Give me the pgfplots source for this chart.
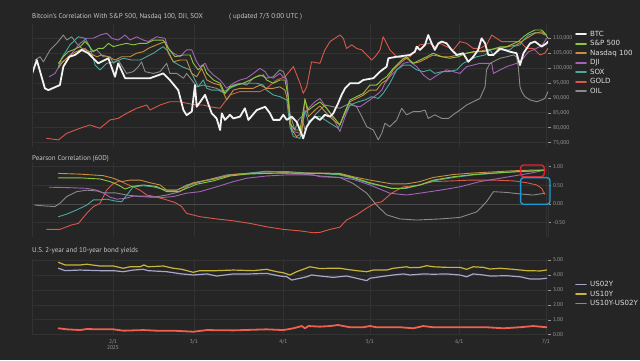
\documentclass[border=0pt]{standalone}
\usepackage{fontspec}
\setmainfont{PT Sans}
\newfontfamily\legfont{DejaVu Sans}
\usepackage{pgfplots}
\pgfplotsset{compat=1.18}
\definecolor{bg}{HTML}{252525}
\definecolor{gridc}{HTML}{323232}
\definecolor{zeroc}{HTML}{4A4A4A}
\definecolor{txt}{HTML}{C8C8C8}
\definecolor{tickc}{HTML}{9A9A9A}
\definecolor{legtxt}{HTML}{DDDDDD}
\definecolor{cbtc}{HTML}{F2F2F2}
\definecolor{cspx}{HTML}{8DC63F}
\definecolor{cndx}{HTML}{C98F3E}
\definecolor{cdji}{HTML}{A463B8}
\definecolor{csox}{HTML}{4BA89E}
\definecolor{cgold}{HTML}{D95848}
\definecolor{coil}{HTML}{8A8A8A}
\definecolor{ctwo}{HTML}{A8A6CC}
\definecolor{cten}{HTML}{C8B53A}
\definecolor{cspr}{HTML}{F0604E}
\definecolor{boxr}{HTML}{E8202A}
\definecolor{boxb}{HTML}{1C9AD6}
\pgfplotsset{
  panel/.style={
    scale only axis, width=516pt, xmin=2.94, xmax=181.7,
    axis line style={draw=none},
    major x tick style={draw=none},
    xtick={31,59,90,120,151,181},
    xmajorgrids, ymajorgrids,
    grid style={gridc, line width=0.6pt},
    ytick pos=right, yticklabel pos=right,
    tick align=outside, major tick length=2.5pt,
    major y tick style={tickc, line width=0.5pt},
    ticklabel style={font=\fontsize{5.5}{6}\selectfont, text=tickc},
    yticklabel style={xshift=-1pt},
    every axis plot/.append style={line join=round, line cap=round},
    legend style={draw=none, fill=none, font=\legfont\fontsize{7.1}{8}\selectfont, text=legtxt,
      anchor=north west, inner sep=0pt, row sep=0.6pt,
      nodes={inner sep=0.6pt, text height=6pt, text depth=1.7pt},
      /tikz/every odd column/.append style={column sep=2.6pt}},
    legend cell align=left,
    legend image code/.code={\draw[##1, line width=1.7pt] (0pt,0pt) -- (10pt,0pt);},
  },
  thin/.style={line width=0.9pt},
}
\begin{document}
\begin{tikzpicture}
\fill[bg] (0pt,0pt) rectangle (640pt,360pt);
\node[anchor=west, text=txt, font=\fontsize{7}{8}\selectfont, inner sep=0pt] at (32pt,343.5pt) {Bitcoin's Correlation With S\&P 500, Nasdaq 100, DJI, SOX};
\node[anchor=west, text=txt, font=\fontsize{7}{8}\selectfont, inner sep=0pt] at (229pt,343.5pt) {( updated 7/3 0:00 UTC )};
\node[anchor=west, text=txt, font=\fontsize{7}{8}\selectfont, inner sep=0pt] at (32pt,201pt) {Pearson Correlation (60D)};
\node[anchor=west, text=txt, font=\fontsize{7}{8}\selectfont, inner sep=0pt] at (32pt,109.5pt) {U.S. 2-year and 10-year bond yields};

% ---------------- top panel ----------------
\begin{axis}[panel, at={(32pt,213pt)}, anchor=south west, height=123pt,
  ymin=73.5, ymax=114.8,
  ytick={75,80,85,90,95,100,105,110},
  yticklabels={{75,000},{80,000},{85,000},{90,000},{95,000},{100,000},{105,000},{110,000}},
  xticklabels={},
  legend style={at={(1.0523,0.955)}}]
\addlegendimage{cbtc}\addlegendentry{BTC}
\addlegendimage{cspx}\addlegendentry{S\&P 500}
\addlegendimage{cndx}\addlegendentry{Nasdaq 100}
\addlegendimage{cdji}\addlegendentry{DJI}
\addlegendimage{csox}\addlegendentry{SOX}
\addlegendimage{cgold}\addlegendentry{GOLD}
\addlegendimage{coil}\addlegendentry{OIL}
% GOLD
\addplot[cgold, thin, forget plot] coordinates {(8.0,76.4)(12.1,75.9)(15.0,78.1)(19.6,79.8)(23.0,80.9)(26.5,79.8)(30.0,82.6)(32.8,83.1)(35.7,84.8)(39.2,86.5)(42.7,87.6)(43.8,85.9)(47.3,87.6)(50.7,88.7)(54.2,88.7)(56.5,88.2)(60.0,87.6)(62.3,87.6)(64.6,87.0)(68.1,86.5)(71.5,91.0)(75.0,92.1)(78.5,92.1)(81.9,92.1)(84.2,93.2)(87.7,96.0)(90.6,97.1)(93.5,100.5)(95.8,94.9)(96.9,91.5)(98.1,93.7)(99.8,102.1)(102.7,101.6)(104.4,106.1)(106.2,108.9)(107.9,110.0)(109.6,111.1)(110.8,110.0)(111.9,106.6)(113.7,107.8)(115.4,106.6)(117.2,106.1)(118.9,104.4)(120.6,102.7)(121.8,103.8)(123.5,106.1)(124.6,110.5)(125.8,108.3)(126.9,106.1)(129.3,103.8)(131.6,103.3)(133.9,103.8)(137.3,107.8)(140.8,108.3)(142.5,107.2)(144.3,108.3)(146.6,107.2)(148.9,106.1)(151.2,108.9)(153.5,108.3)(155.8,106.6)(158.1,106.6)(160.4,107.8)(162.2,111.1)(163.9,110.0)(165.6,108.9)(168.5,108.9)(172.0,108.9)(174.3,106.6)(176.6,106.6)(178.9,104.4)(180.6,105.0)(181.7,106.6)};
% OIL
\addplot[coil, thin, forget plot] coordinates {(4.0,102.7)(5.7,103.8)(6.9,102.1)(9.2,106.1)(11.5,108.3)(13.8,111.1)(15.0,109.4)(16.7,110.5)(18.4,108.3)(20.2,106.6)(23.0,105.5)(25.4,106.1)(27.6,103.8)(30.0,103.8)(31.1,101.6)(32.8,102.7)(34.6,99.9)(35.7,98.2)(38.0,98.8)(39.8,100.5)(40.9,102.1)(42.1,98.8)(45.0,98.2)(47.3,98.8)(49.6,101.6)(50.7,98.2)(53.1,98.2)(55.4,96.6)(56.5,98.2)(58.3,96.0)(60.0,93.7)(62.3,94.3)(64.6,93.7)(66.9,93.2)(69.2,92.1)(70.4,92.6)(72.7,94.3)(75.0,94.9)(77.3,94.3)(79.6,96.6)(81.9,97.7)(84.2,96.6)(86.5,97.1)(88.8,99.4)(90.0,98.8)(91.2,96.0)(92.3,84.8)(94.0,79.2)(95.2,82.6)(96.4,83.7)(97.5,79.2)(99.2,81.5)(101.0,84.3)(102.7,85.9)(104.4,87.6)(107.3,87.0)(109.6,86.5)(113.1,88.2)(115.4,87.0)(117.2,83.7)(118.9,80.3)(121.2,79.2)(122.9,75.9)(124.1,78.1)(125.2,81.5)(126.9,80.3)(129.3,82.6)(131.0,86.5)(132.7,84.3)(135.0,85.4)(137.3,85.4)(139.1,85.9)(140.2,83.1)(142.5,84.3)(144.9,83.1)(147.2,83.1)(149.5,84.8)(151.2,85.9)(153.5,87.6)(155.8,88.7)(158.1,89.8)(159.9,93.7)(160.4,99.4)(161.6,101.6)(163.9,102.7)(165.1,103.3)(167.4,103.8)(169.7,104.4)(170.8,103.8)(171.4,100.5)(172.0,93.7)(172.6,92.1)(173.7,90.4)(175.5,89.3)(177.8,88.7)(179.5,89.3)(180.6,89.8)(181.7,92.1)};
% DJI
\addplot[cdji, thin, forget plot] coordinates {(8.9,97.1)(10.9,98.2)(13.2,102.1)(14.4,102.7)(17.2,105.5)(19.6,108.3)(21.9,110.0)(24.2,110.0)(26.5,111.1)(28.8,111.7)(30.6,110.0)(32.8,109.4)(35.2,111.1)(36.9,109.4)(39.2,110.5)(41.5,109.4)(43.2,108.9)(46.1,110.5)(49.0,110.0)(50.2,106.6)(51.9,105.0)(54.2,103.8)(56.5,106.1)(58.3,106.1)(60.0,102.1)(61.1,100.5)(62.9,101.6)(64.0,99.4)(65.8,97.7)(68.1,96.0)(70.4,93.2)(72.7,94.9)(75.0,96.0)(77.3,96.6)(79.6,98.2)(81.9,99.9)(83.7,98.8)(84.8,97.1)(86.5,96.6)(88.8,98.2)(91.2,96.0)(92.3,81.5)(93.5,78.7)(95.8,78.1)(97.5,84.8)(98.7,86.5)(101.0,88.7)(102.7,89.8)(106.2,84.8)(107.9,82.0)(109.6,78.7)(111.4,83.7)(113.1,87.6)(116.6,87.0)(120.0,89.3)(122.9,91.5)(124.1,92.6)(125.2,94.9)(126.9,97.1)(129.3,99.4)(131.6,101.6)(133.9,102.1)(136.2,100.5)(138.5,97.7)(140.8,96.0)(142.5,97.1)(144.3,98.2)(146.6,99.4)(148.9,98.8)(151.2,98.2)(153.5,100.5)(155.8,101.0)(158.1,101.6)(162.2,101.6)(162.8,98.2)(165.1,99.4)(167.4,100.5)(170.8,101.6)(173.1,103.3)(174.9,105.5)(176.6,106.1)(178.9,107.2)(180.1,108.3)(181.2,110.0)};
% SOX
\addplot[csox, thin, forget plot] coordinates {(12.1,100.5)(13.2,103.3)(15.0,106.1)(16.1,107.8)(17.8,109.4)(19.0,110.5)(21.3,110.0)(23.0,107.2)(24.8,101.0)(26.5,99.4)(28.8,101.6)(31.7,102.1)(34.6,103.3)(37.5,102.7)(40.4,102.7)(45.0,105.0)(48.4,107.2)(50.2,105.5)(51.9,102.1)(54.8,100.5)(57.7,99.4)(59.4,96.0)(60.5,93.7)(62.3,96.0)(63.5,93.2)(65.2,92.6)(67.5,92.6)(69.8,91.5)(71.5,93.2)(73.9,94.3)(76.1,94.9)(80.8,94.9)(83.1,94.3)(84.2,92.6)(86.5,91.0)(88.8,90.4)(91.2,89.3)(92.3,80.3)(93.5,77.0)(95.8,76.4)(97.5,85.9)(98.7,82.0)(101.0,83.7)(102.7,83.7)(106.2,81.5)(109.0,79.8)(111.4,84.8)(113.1,87.6)(116.0,88.7)(118.3,89.3)(120.6,90.4)(122.9,89.8)(124.6,91.5)(126.9,94.9)(129.3,99.4)(131.6,101.0)(133.9,101.0)(136.2,99.4)(138.5,98.8)(140.8,99.4)(142.5,98.2)(144.9,98.8)(147.2,98.8)(150.1,99.4)(152.3,101.6)(154.7,102.7)(157.0,103.8)(159.9,104.4)(161.6,106.1)(162.8,104.4)(165.1,106.1)(168.5,106.1)(169.7,107.2)(172.0,107.8)(173.2,109.4)(174.9,111.1)(177.2,111.9)(179.5,111.7)(180.6,111.1)};
% Nasdaq 100
\addplot[cndx, thin, forget plot] coordinates {(12.1,100.0)(13.2,101.6)(15.0,103.3)(17.2,105.0)(19.6,106.1)(21.3,106.6)(23.0,105.0)(25.4,103.8)(27.1,104.4)(29.4,103.8)(31.7,102.7)(34.0,103.8)(36.9,103.8)(39.2,105.0)(41.5,105.5)(43.2,106.6)(46.1,107.8)(49.0,108.9)(50.2,105.0)(51.9,102.1)(54.2,102.7)(56.5,102.7)(58.3,98.2)(60.0,97.1)(61.7,99.9)(63.5,96.0)(65.8,94.9)(68.1,94.3)(70.4,89.3)(72.7,92.6)(75.0,93.2)(79.6,93.2)(81.9,94.3)(84.2,93.2)(86.5,93.2)(88.8,93.7)(90.6,92.6)(91.7,88.2)(92.9,79.2)(94.6,77.0)(96.4,78.1)(97.5,89.8)(98.7,83.7)(101.0,85.9)(102.7,87.3)(105.0,84.8)(107.3,82.6)(109.6,80.9)(111.4,85.4)(113.1,88.7)(115.4,89.8)(117.7,90.9)(120.0,92.6)(122.3,92.6)(124.1,94.9)(125.8,96.0)(128.1,99.4)(131.0,102.1)(132.7,103.3)(135.0,101.6)(137.3,102.1)(139.7,103.3)(141.9,104.4)(144.9,103.8)(147.7,103.8)(150.6,104.4)(153.5,105.0)(157.0,105.5)(160.4,106.1)(165.1,106.6)(170.8,107.8)(174.3,110.0)(177.2,111.7)(179.5,112.2)(181.2,111.1)};
% S&P 500
\addplot[cspx, thin, forget plot] coordinates {(12.1,101.6)(13.8,103.8)(15.5,105.5)(17.2,106.1)(19.6,107.2)(21.3,108.9)(22.4,107.8)(24.2,105.5)(25.9,106.6)(27.6,106.6)(29.4,108.3)(31.1,107.2)(33.4,107.8)(35.7,108.3)(38.0,107.8)(40.4,108.3)(42.7,108.3)(45.0,109.4)(48.4,109.4)(50.2,106.6)(52.5,103.8)(55.4,104.4)(57.7,104.4)(58.8,101.6)(60.5,99.4)(62.3,101.0)(63.5,98.2)(65.8,96.0)(68.1,94.9)(69.8,91.5)(71.5,93.7)(73.9,94.3)(76.1,94.9)(78.5,96.0)(80.8,97.1)(83.1,97.7)(84.2,96.0)(86.5,94.9)(88.8,96.0)(90.6,96.0)(91.7,90.4)(92.3,81.5)(94.0,79.2)(95.8,79.2)(97.5,89.3)(98.7,85.9)(101.0,87.6)(102.7,88.6)(105.0,86.5)(107.3,83.7)(109.6,80.9)(111.4,85.4)(113.1,89.3)(115.4,90.4)(117.7,91.5)(120.0,94.3)(122.3,94.3)(124.1,96.0)(125.8,97.1)(128.1,99.9)(131.0,102.7)(132.7,103.8)(135.0,101.6)(137.3,102.7)(139.7,103.8)(141.9,105.0)(144.9,103.8)(147.7,103.3)(150.6,103.8)(153.5,105.0)(155.8,105.5)(159.3,105.5)(161.6,106.1)(165.1,107.1)(167.4,107.2)(171.4,108.9)(173.2,110.5)(174.9,111.7)(177.2,112.8)(179.5,112.8)(180.6,111.7)(181.7,110.0)};
% BTC
\addplot[cbtc, line width=1.8pt, forget plot] coordinates {(3.0,98.2)(4.6,102.7)(7.4,93.2)(8.6,92.6)(12.6,94.3)(13.8,100.5)(15.9,103.8)(17.8,104.4)(20.2,106.1)(22.4,105.0)(25.9,101.6)(29.4,103.3)(31.7,97.1)(32.8,101.6)(35.2,96.6)(43.8,96.6)(48.4,98.2)(50.7,96.0)(53.6,92.6)(55.4,85.9)(56.5,84.2)(58.3,85.4)(59.4,94.3)(60.0,87.0)(62.9,91.0)(65.2,84.8)(66.9,83.1)(68.1,79.2)(68.7,84.8)(69.8,82.6)(71.5,84.3)(72.7,83.1)(75.0,83.7)(76.7,86.5)(77.9,82.6)(80.8,85.9)(83.7,87.0)(85.4,84.8)(86.5,82.6)(88.8,82.6)(90.0,84.3)(91.2,82.6)(92.9,83.7)(94.6,82.0)(95.8,79.2)(96.9,76.4)(98.1,80.3)(99.2,82.0)(101.0,83.7)(102.7,82.6)(104.4,84.3)(106.2,83.7)(107.3,84.8)(109.0,88.2)(110.2,91.0)(111.4,93.2)(113.1,94.9)(116.0,94.9)(117.7,96.0)(121.2,96.6)(123.5,98.8)(125.8,100.5)(126.4,103.3)(129.3,103.8)(133.9,104.4)(135.6,105.5)(136.2,107.2)(137.3,106.1)(139.1,107.8)(140.2,111.1)(141.4,108.3)(142.5,106.1)(143.7,108.3)(144.9,108.9)(146.6,108.3)(148.3,106.1)(150.1,104.4)(152.3,105.0)(154.1,102.1)(155.8,103.8)(157.5,106.1)(158.7,110.0)(159.9,108.3)(161.0,104.4)(162.8,104.4)(165.1,106.6)(168.5,105.5)(170.8,105.0)(172.0,101.0)(173.2,105.0)(175.5,108.3)(177.2,108.9)(179.5,107.2)(181.2,108.3)(181.7,108.9)};
\draw[gridc, line width=0.6pt] (rel axis cs:0,0) -- (rel axis cs:0,1);
\draw[gridc, line width=0.6pt] (rel axis cs:1,0) -- (rel axis cs:1,1);
\end{axis}

% ---------------- middle panel ----------------
\begin{axis}[panel, at={(32pt,123pt)}, anchor=south west, height=75pt,
  ymin=-0.884, ymax=1.125, clip=false,
  ytick={-0.5,0.5,1}, yticklabels={-0.50,0.50,1.00},
  extra y ticks={0}, extra y tick labels={0.00},
  extra y tick style={grid style={zeroc, line width=0.7pt}},
  xticklabels={}]
\addplot[cgold, thin] coordinates {(8.0,-0.68)(12.6,-0.68)(16.7,-0.56)(19.0,-0.52)(21.9,-0.25)(24.2,-0.07)(26.5,0.02)(28.8,0.37)(31.1,0.55)(33.4,0.62)(35.2,0.55)(38.0,0.46)(40.4,0.37)(42.7,0.24)(46.1,0.19)(49.6,0.11)(52.5,0.04)(54.8,-0.07)(56.5,-0.25)(61.1,-0.34)(66.9,-0.40)(72.7,-0.45)(78.5,-0.52)(84.2,-0.61)(90.0,-0.68)(95.8,-0.72)(100.4,-0.77)(102.7,-0.76)(106.2,-0.68)(109.6,-0.62)(111.9,-0.43)(115.4,-0.29)(118.9,-0.11)(121.8,0.02)(124.1,0.06)(127.5,0.29)(131.6,0.46)(137.3,0.51)(141.9,0.60)(148.9,0.62)(154.7,0.64)(162.8,0.64)(169.7,0.62)(174.3,0.57)(177.8,0.51)(179.5,0.42)(180.6,0.26)};
\addplot[coil, thin] coordinates {(4.0,-0.03)(6.9,-0.05)(10.9,-0.07)(12.6,0.02)(15.0,0.20)(18.4,0.33)(21.9,0.37)(25.4,0.35)(27.6,0.30)(31.7,0.30)(35.7,0.24)(40.4,0.20)(45.0,0.18)(49.6,0.24)(54.2,0.33)(57.7,0.51)(63.5,0.64)(70.4,0.78)(77.3,0.82)(84.2,0.88)(91.2,0.84)(98.1,0.79)(102.7,0.75)(109.6,0.71)(114.2,0.55)(118.9,0.29)(122.3,-0.03)(125.8,-0.29)(130.4,-0.40)(136.2,-0.43)(144.3,-0.40)(151.2,-0.36)(157.0,-0.21)(160.4,0.06)(162.8,0.33)(167.4,0.31)(172.0,0.27)(176.6,0.24)(180.6,0.29)};
\addplot[cdji, thin] coordinates {(8.9,0.45)(15.0,0.44)(21.9,0.42)(25.4,0.37)(27.6,0.30)(30.0,0.18)(32.3,0.13)(35.2,0.15)(38.0,0.21)(42.7,0.21)(47.3,0.17)(51.9,0.20)(56.5,0.29)(61.1,0.33)(66.9,0.46)(72.7,0.60)(77.3,0.69)(84.2,0.75)(91.2,0.78)(100.4,0.78)(102.7,0.73)(109.6,0.71)(114.2,0.66)(120.0,0.51)(126.9,0.29)(132.7,0.24)(137.3,0.29)(144.3,0.37)(151.2,0.46)(158.1,0.60)(165.1,0.69)(172.0,0.78)(176.6,0.84)(180.6,0.91)};
\addplot[csox, thin] coordinates {(12.1,-0.34)(15.0,-0.27)(18.4,-0.16)(21.9,-0.03)(24.2,0.11)(26.5,0.11)(28.8,0.13)(31.7,0.08)(34.0,0.06)(36.3,0.29)(38.0,0.46)(41.5,0.49)(45.0,0.46)(49.6,0.37)(53.1,0.37)(56.5,0.51)(61.1,0.60)(65.8,0.66)(71.5,0.78)(77.3,0.82)(84.2,0.86)(91.2,0.87)(100.4,0.82)(102.7,0.82)(109.6,0.78)(114.2,0.69)(120.0,0.55)(127.5,0.42)(132.7,0.42)(137.3,0.51)(141.9,0.62)(148.9,0.71)(155.8,0.78)(162.8,0.82)(169.7,0.86)(176.6,0.88)(180.6,0.91)};
\addplot[cndx, thin] coordinates {(12.1,0.82)(19.6,0.80)(27.6,0.76)(31.1,0.69)(34.0,0.60)(36.9,0.64)(40.4,0.64)(43.8,0.57)(47.3,0.51)(49.6,0.37)(53.1,0.37)(55.9,0.46)(58.8,0.57)(63.5,0.64)(68.1,0.71)(72.7,0.79)(79.6,0.82)(86.5,0.83)(100.4,0.83)(102.7,0.83)(109.6,0.82)(114.2,0.73)(120.0,0.64)(127.5,0.54)(132.7,0.54)(137.3,0.60)(141.9,0.71)(148.9,0.79)(155.8,0.83)(162.8,0.86)(169.7,0.89)(176.6,0.91)(180.6,0.91)};
\addplot[cspx, thin] coordinates {(12.1,0.70)(19.6,0.70)(26.5,0.67)(30.0,0.60)(32.8,0.51)(35.2,0.40)(37.5,0.47)(41.5,0.51)(46.1,0.47)(49.6,0.33)(53.6,0.33)(56.5,0.42)(60.0,0.53)(65.8,0.62)(71.5,0.75)(77.3,0.80)(84.2,0.82)(92.3,0.83)(100.4,0.82)(102.7,0.82)(109.6,0.80)(114.2,0.71)(120.0,0.57)(127.5,0.42)(131.6,0.42)(137.3,0.51)(141.9,0.64)(148.9,0.73)(155.8,0.79)(162.8,0.83)(169.7,0.86)(176.6,0.89)(180.6,0.91)};
\draw[gridc, line width=0.6pt] (rel axis cs:0,0) -- (rel axis cs:0,1);
\draw[gridc, line width=0.6pt] (rel axis cs:1,0) -- (rel axis cs:1,1);
\draw[boxr, line width=1.4pt, rounded corners=3pt] (axis cs:172.2,1.045) rectangle (axis cs:180.4,0.731);
\draw[boxb, line width=1.4pt, rounded corners=3pt] (axis cs:172.2,0.705) rectangle (axis cs:182.4,-0.008);
\end{axis}

% ---------------- bottom panel ----------------
\begin{axis}[panel, at={(32pt,25pt)}, anchor=south west, height=76pt,
  ymin=-0.02, ymax=5.07,
  ytick={0,1,2,3,4,5}, yticklabels={0.00,1.00,2.00,3.00,4.00,5.00},
  xticklabels={{2/1\\2025},3/1,4/1,5/1,6/1,7/1},
  xticklabel style={align=center, font=\fontsize{5.5}{6.5}\selectfont, text=tickc, yshift=1.5pt},
  legend style={at={(1.0523,0.725)}}]
\addlegendimage{ctwo}\addlegendentry{US02Y}
\addlegendimage{cten}\addlegendentry{US10Y}
\addlegendimage{cspr}\addlegendentry{US10Y-US02Y}
\addplot[ctwo, line width=1.2pt, forget plot] coordinates {(12.1,4.45)(14.4,4.29)(19.6,4.33)(26.5,4.29)(31.1,4.29)(34.6,4.22)(38.0,4.33)(41.5,4.38)(43.2,4.29)(49.6,4.22)(54.8,4.07)(58.8,4.00)(63.5,4.07)(66.9,3.93)(72.7,4.07)(78.5,4.07)(84.2,4.11)(88.8,3.93)(91.2,3.88)(92.9,3.66)(95.8,3.78)(98.1,3.88)(99.8,4.00)(102.7,3.93)(107.3,3.84)(111.9,3.93)(115.4,3.78)(118.9,3.62)(120.0,3.78)(123.5,3.88)(128.1,4.00)(131.6,4.07)(133.9,4.00)(138.5,4.07)(141.9,4.05)(146.6,4.07)(151.2,4.00)(153.5,3.88)(155.8,4.07)(159.3,4.00)(161.6,3.93)(167.4,3.95)(172.0,3.88)(175.5,3.73)(178.9,3.73)(181.2,3.78)};
\addplot[cten, line width=1.2pt, forget plot] coordinates {(12.1,4.85)(14.4,4.67)(19.6,4.67)(21.9,4.72)(26.5,4.60)(31.1,4.60)(34.6,4.45)(36.9,4.55)(40.4,4.55)(41.7,4.67)(43.2,4.55)(48.4,4.60)(51.9,4.45)(54.8,4.38)(58.8,4.18)(61.1,4.29)(66.9,4.29)(72.7,4.33)(79.6,4.29)(84.2,4.38)(87.7,4.22)(90.0,4.15)(92.3,4.00)(94.6,4.22)(96.9,4.38)(99.2,4.55)(102.7,4.43)(106.2,4.45)(109.6,4.45)(111.9,4.38)(115.4,4.29)(118.9,4.22)(121.2,4.33)(125.8,4.33)(128.1,4.45)(132.7,4.55)(133.9,4.49)(137.3,4.51)(139.7,4.62)(141.9,4.55)(146.6,4.51)(151.2,4.51)(153.5,4.38)(155.8,4.55)(159.3,4.51)(161.6,4.40)(165.1,4.45)(169.7,4.38)(174.3,4.29)(178.9,4.27)(181.2,4.33)};
\addplot[cspr, line width=1.8pt, forget plot] coordinates {(12.1,0.43)(15.0,0.36)(19.6,0.31)(21.9,0.38)(26.5,0.36)(31.1,0.36)(34.6,0.27)(41.5,0.31)(46.1,0.27)(51.9,0.27)(58.8,0.20)(63.5,0.31)(72.7,0.29)(84.2,0.36)(90.0,0.31)(93.5,0.43)(96.4,0.58)(97.5,0.43)(98.7,0.58)(102.7,0.54)(106.2,0.58)(109.0,0.65)(110.8,0.58)(113.1,0.50)(117.7,0.50)(120.0,0.58)(122.3,0.50)(130.4,0.50)(135.0,0.43)(138.5,0.58)(141.9,0.50)(148.9,0.50)(160.4,0.50)(166.2,0.43)(172.0,0.50)(176.6,0.58)(181.2,0.50)};
\draw[gridc, line width=0.6pt] (rel axis cs:0,0) -- (rel axis cs:0,1);
\draw[gridc, line width=0.6pt] (rel axis cs:1,0) -- (rel axis cs:1,1);
\end{axis}
\end{tikzpicture}
\end{document}
